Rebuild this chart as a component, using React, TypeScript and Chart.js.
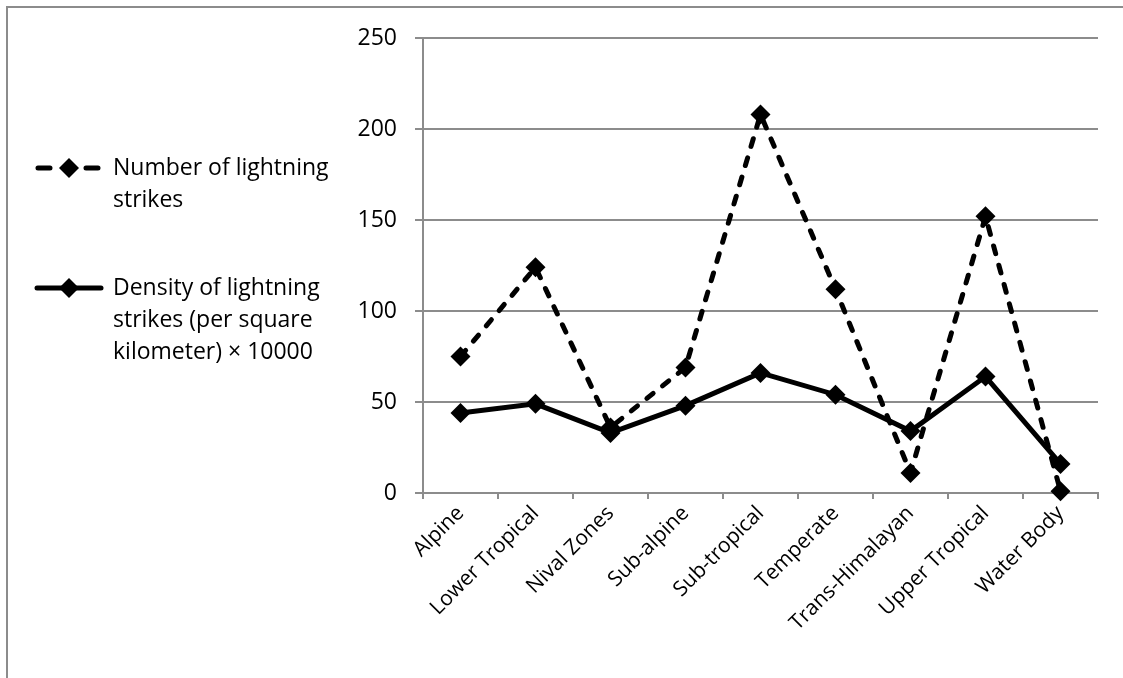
import React, { useEffect, useRef } from "react";
import { Chart, registerables } from "chart.js";

Chart.register(...registerables);

const categories = [
  "Alpine",
  "Lower Tropical",
  "Nival Zones",
  "Sub-alpine",
  "Sub-tropical",
  "Temperate",
  "Trans-Himalayan",
  "Upper Tropical",
  "Water Body",
];
const strikeCounts = [75, 124, 36, 69, 208, 112, 11, 152, 1];
const strikeDensity = [44, 49, 33, 48, 66, 54, 34, 64, 16];
const yTicks = [0, 50, 100, 150, 200, 250];
const seriesLabels = [
  "Number of lightning strikes",
  "Density of lightning strikes (per square kilometer) × 10000",
];

const FONT_FAMILY = '"Open Sans", sans-serif';
const FONT_SIZE = 23;
const GRID = "#8c8c8c";
const W = 1123;
const H = 678;

function wrap(ctx: CanvasRenderingContext2D, text: string, maxW: number): string[] {
  const words = text.split(" ");
  const lines: string[] = [];
  let cur = "";
  for (const w of words) {
    const t = cur ? cur + " " + w : w;
    if (ctx.measureText(t).width > maxW && cur) {
      lines.push(cur);
      cur = w;
    } else cur = t;
  }
  if (cur) lines.push(cur);
  return lines;
}

const framePlugin = {
  id: "frame",
  beforeDraw(chart: any) {
    const ctx = chart.ctx as CanvasRenderingContext2D;
    ctx.save();
    ctx.fillStyle = "#fff";
    ctx.fillRect(0, 0, W, H);
    ctx.strokeStyle = GRID;
    ctx.lineWidth = 2;
    ctx.beginPath();
    ctx.moveTo(7, H + 5);
    ctx.lineTo(7, 7);
    ctx.lineTo(W + 5, 7);
    ctx.stroke();
    ctx.restore();
  },
};

const sideLegendPlugin = {
  id: "sideLegend",
  afterDraw(chart: any) {
    const ctx = chart.ctx as CanvasRenderingContext2D;
    ctx.save();
    ctx.font = `${FONT_SIZE}px ${FONT_FAMILY}`;
    ctx.textBaseline = "middle";
    const slots = [168, 288];
    chart.data.datasets.forEach((ds: any, i: number) => {
      const y = slots[i];
      ctx.strokeStyle = "#000";
      ctx.lineWidth = 5;
      ctx.lineCap = "round";
      ctx.beginPath();
      if (ds.borderDash && ds.borderDash.length) {
        ctx.moveTo(38, y);
        ctx.lineTo(50, y);
        ctx.moveTo(86, y);
        ctx.lineTo(98, y);
      } else {
        ctx.moveTo(37, y);
        ctx.lineTo(101, y);
      }
      ctx.stroke();
      ctx.fillStyle = "#000";
      ctx.beginPath();
      const cx = 69;
      const r = 10;
      ctx.moveTo(cx - r, y);
      ctx.lineTo(cx, y - r);
      ctx.lineTo(cx + r, y);
      ctx.lineTo(cx, y + r);
      ctx.closePath();
      ctx.fill();
      const lines = wrap(ctx, ds.label, 232);
      lines.forEach((ln, k) => {
        ctx.fillText(ln, 113, y + k * 32);
      });
    });
    ctx.restore();
  },
};

export default function App() {
  const ref = useRef<HTMLCanvasElement>(null);

  useEffect(() => {
    if (!ref.current) return;
    const font = { family: FONT_FAMILY, size: FONT_SIZE };
    const chart = new Chart(ref.current, {
      type: "line",
      data: {
        labels: categories,
        datasets: [
          {
            label: seriesLabels[0],
            data: strikeCounts,
            borderColor: "#000",
            backgroundColor: "#000",
            borderWidth: 5,
            borderDash: [8, 12],
            borderCapStyle: "round",
            pointStyle: "rectRot",
            pointRadius: 10,
            pointBorderWidth: 0,
            pointBackgroundColor: "#000",
            tension: 0,
            clip: false,
          },
          {
            label: seriesLabels[1],
            data: strikeDensity,
            borderColor: "#000",
            backgroundColor: "#000",
            borderWidth: 5,
            pointStyle: "rectRot",
            pointRadius: 10,
            pointBorderWidth: 0,
            pointBackgroundColor: "#000",
            tension: 0,
            clip: false,
          },
        ],
      },
      options: {
        responsive: false,
        animation: false,
        devicePixelRatio: 1,
        layout: { padding: { left: 300, top: 38, right: 25, bottom: 0 } },
        plugins: {
          legend: { display: false },
          tooltip: { enabled: false },
        },
        scales: {
          x: {
            type: "category",
            offset: true,
            grid: {
              offset: true,
              drawOnChartArea: false,
              drawTicks: true,
              tickLength: 6,
              color: GRID,
              lineWidth: 2,
            },
            border: { color: GRID, width: 2 },
            ticks: {
              minRotation: 45,
              maxRotation: 45,
              autoSkip: false,
              font: { family: FONT_FAMILY, size: 21 },
              color: "#000",
              padding: 2,
            },
            afterFit: (s: any) => {
              s.height = 185;
            },
          },
          y: {
            min: 0,
            max: 250,
            afterBuildTicks: (s: any) => {
              s.ticks = yTicks.map((v) => ({ value: v }));
            },
            grid: { color: GRID, lineWidth: 2, tickLength: 8 },
            border: { color: GRID, width: 2 },
            ticks: { font, color: "#000", padding: 18 },
            afterFit: (s: any) => {
              s.width = 123;
            },
          },
        },
      },
      plugins: [framePlugin, sideLegendPlugin],
    } as any);
    return () => chart.destroy();
  }, []);

  return (
    <div style={{ position: "fixed", left: 0, top: 0, width: W, height: H, background: "#fff" }}>
      <canvas ref={ref} width={W} height={H} style={{ display: "block", width: W, height: H }} />
    </div>
  );
}
